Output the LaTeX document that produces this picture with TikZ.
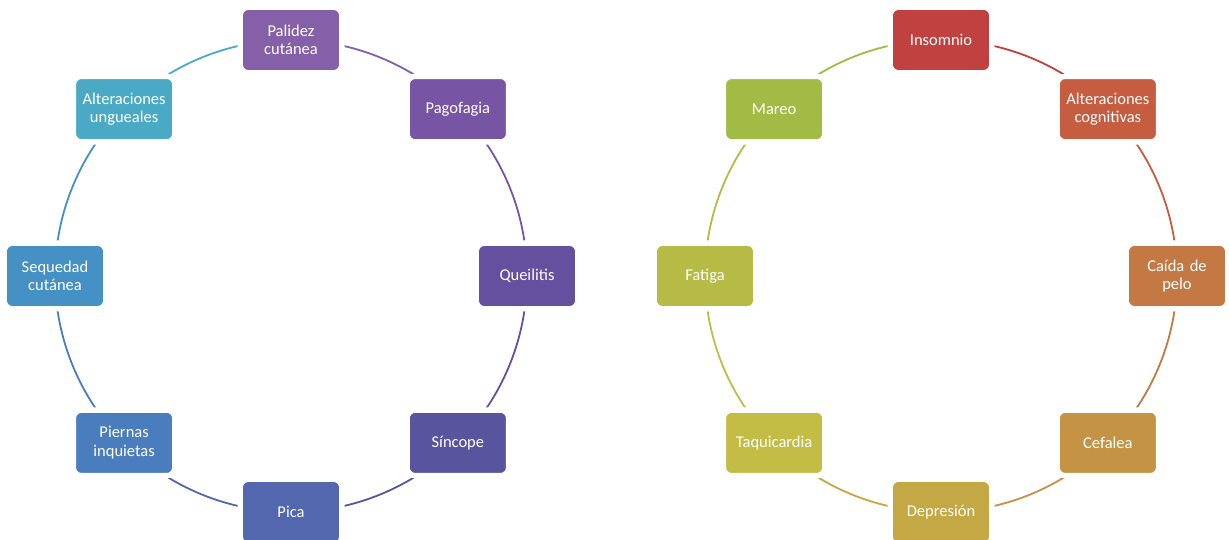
\documentclass[tikz,border=0pt]{standalone}
\usepackage{fontspec}
\setmainfont{Carlito}
\usetikzlibrary{calc}

% left cycle palette (purple -> blue -> teal)
\definecolor{cPal}{HTML}{8560A8}
\definecolor{cPag}{HTML}{7855A4}
\definecolor{cQue}{HTML}{6550A0}
\definecolor{cSin}{HTML}{58559E}
\definecolor{cPic}{HTML}{5267AE}
\definecolor{cPie}{HTML}{4A7DBD}
\definecolor{cSeq}{HTML}{4590C4}
\definecolor{cUng}{HTML}{4AAAC6}
% right cycle palette (red -> orange -> gold -> green)
\definecolor{cIns}{HTML}{C0413F}
\definecolor{cCog}{HTML}{C65C40}
\definecolor{cCai}{HTML}{C47843}
\definecolor{cCef}{HTML}{C49344}
\definecolor{cDep}{HTML}{C4A843}
\definecolor{cTaq}{HTML}{C4BD45}
\definecolor{cFat}{HTML}{B5BB45}
\definecolor{cMar}{HTML}{A2BB45}

\begin{document}
\begin{tikzpicture}[x=1pt,y=1pt,
  box/.style={rectangle, rounded corners=6pt, minimum width=97pt, minimum height=61pt,
    text width=94pt, align=center, text=white, inner sep=0pt,
    font=\fontsize{16.5}{18.5}\selectfont,
    draw=white, line width=0.8pt,
    preaction={draw=white, line width=10pt}},
  link/.style={line width=1.8pt}]

\useasboundingbox (0,0) rectangle (1229,540);
\fill[white] (0,0) rectangle (1229,540);

\coordinate (cL) at (291,264);
\coordinate (cR) at (941,264);
\def\R{236}

% node anchors on the two circles
\foreach \n/\ang in {pal/90,pag/45,que/0,sin/-45,pic/-90,pie/-135,seq/180,ung/135}
  \coordinate (p\n) at ($(cL)+(\ang:\R)$);
\foreach \n/\ang in {ins/90,cog/45,cai/0,cef/-45,dep/-90,taq/-135,fat/180,mar/135}
  \coordinate (p\n) at ($(cR)+(\ang:\R)$);

% left cycle arcs, each in the colour of the node it leaves
\foreach \a/\ang/\c in {ppal/90/cPal,ppag/45/cPag,pque/0/cQue,psin/-45/cSin,
                         ppic/-90/cPic,ppie/-135/cPie,pseq/180/cSeq,pung/135/cUng}
  \draw[link,\c] (\a) arc[start angle=\ang, delta angle=-45, radius=\R];
% right cycle arcs
\foreach \a/\ang/\c in {pins/90/cIns,pcog/45/cCog,pcai/0/cCai,pcef/-45/cCef,
                         pdep/-90/cDep,ptaq/-135/cTaq,pfat/180/cFat,pmar/135/cMar}
  \draw[link,\c] (\a) arc[start angle=\ang, delta angle=-45, radius=\R];

% left cycle nodes
\node[box,fill=cPal] (pal) at (ppal) {Palidez\\cutánea};
\node[box,fill=cPag] (pag) at (ppag) {Pagofagia};
\node[box,fill=cQue] (que) at (pque) {Queilitis};
\node[box,fill=cSin] (sin) at (psin) {Síncope};
\node[box,fill=cPic] (pic) at (ppic) {Pica};
\node[box,fill=cPie] (pie) at (ppie) {Piernas\\inquietas};
\node[box,fill=cSeq] (seq) at (pseq) {Sequedad\\cutánea};
\node[box,fill=cUng] (ung) at (pung) {Alteraciones\\ungueales};

% right cycle nodes
\node[box,fill=cIns] (ins) at (pins) {Insomnio};
\node[box,fill=cCog] (cog) at (pcog) {Alteraciones\\cognitivas};
\node[box,fill=cCai] (cai) at (pcai) {Caída de\\pelo};
\node[box,fill=cCef] (cef) at (pcef) {Cefalea};
\node[box,fill=cDep] (dep) at (pdep) {Depresión};
\node[box,fill=cTaq] (taq) at (ptaq) {Taquicardia};
\node[box,fill=cFat] (fat) at (pfat) {Fatiga};
\node[box,fill=cMar] (mar) at (pmar) {Mareo};
\end{tikzpicture}
\end{document}
